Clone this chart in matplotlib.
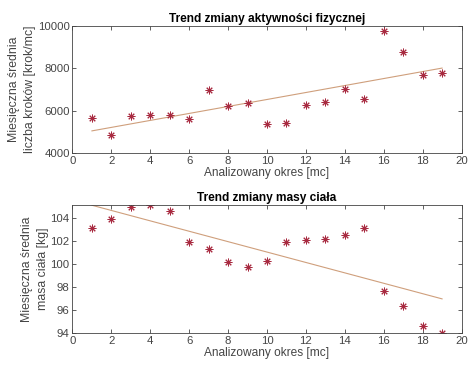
import numpy as np
import matplotlib.pyplot as plt

plt.rcParams['font.family'] = ['Liberation Sans', 'DejaVu Sans']

# miesiace obserwacji
months = list(range(1, 20))

# srednia liczba krokow w miesiacu
steps = [5630, 4865, 5760, 5805, 5775, 5590, 6985, 6230, 6355, 5350,
         5415, 6280, 6420, 7015, 6530, 9780, 8760, 7690, 7800]

# srednia masa ciala w miesiacu [kg]
mass = [103.16, 103.88, 104.98, 105.13, 104.61, 101.92, 101.31, 100.16, 99.78, 100.24,
        101.95, 102.06, 102.21, 102.53, 103.16, 97.67, 96.34, 94.64, 94.0]

x_ticks = [0, 2, 4, 6, 8, 10, 12, 14, 16, 18, 20]
steps_ticks = [4000, 6000, 8000, 10000]
mass_ticks = [94, 96, 98, 100, 102, 104]

marker_color = '#a82a40'
trend_color = '#cf9f7c'
text_color = '#454545'

fig = plt.figure(figsize=(4.75, 3.67), dpi=100)
ax1 = fig.add_axes([0.1526, 0.5831, 0.819, 0.3461])
ax2 = fig.add_axes([0.1526, 0.0926, 0.819, 0.3488])


def draw(ax, y, title, ylabel, yticks, ylim):
    x = np.array(months)
    y = np.array(y)
    # linia trendu (regresja liniowa)
    a, b = np.polyfit(x, y, 1)
    ax.plot(x, a * x + b, color=trend_color, linewidth=0.8)
    ax.plot(x, y, linestyle='none', marker=(8, 2, 0), markersize=5.5,
            markeredgewidth=0.7, color=marker_color)
    ax.set_xlim(0, 20)
    ax.set_ylim(*ylim)
    ax.set_xticks(x_ticks)
    ax.set_yticks(yticks)
    ax.tick_params(direction='in', length=3, width=0.6, top=True, right=True,
                   labelsize=8.2, colors=text_color, pad=2)
    for s in ax.spines.values():
        s.set_linewidth(0.6)
        s.set_color('#444444')
    ax.set_title(title, fontsize=8.6, fontweight='bold', pad=3)
    ax.set_xlabel('Analizowany okres [mc]', fontsize=8.6, color=text_color, labelpad=1)
    ax.set_ylabel(ylabel, fontsize=8.8, color=text_color, labelpad=1, linespacing=1.5)


draw(ax1, steps, 'Trend zmiany aktywności fizycznej',
     'Miesięczna średnia\nliczba kroków [krok/mc]', steps_ticks, (4000, 10000))
draw(ax2, mass, 'Trend zmiany masy ciała',
     'Miesięczna średnia\nmasa ciała [kg]', mass_ticks, (94, 105.13))

fig.savefig('out.png', dpi=100)
